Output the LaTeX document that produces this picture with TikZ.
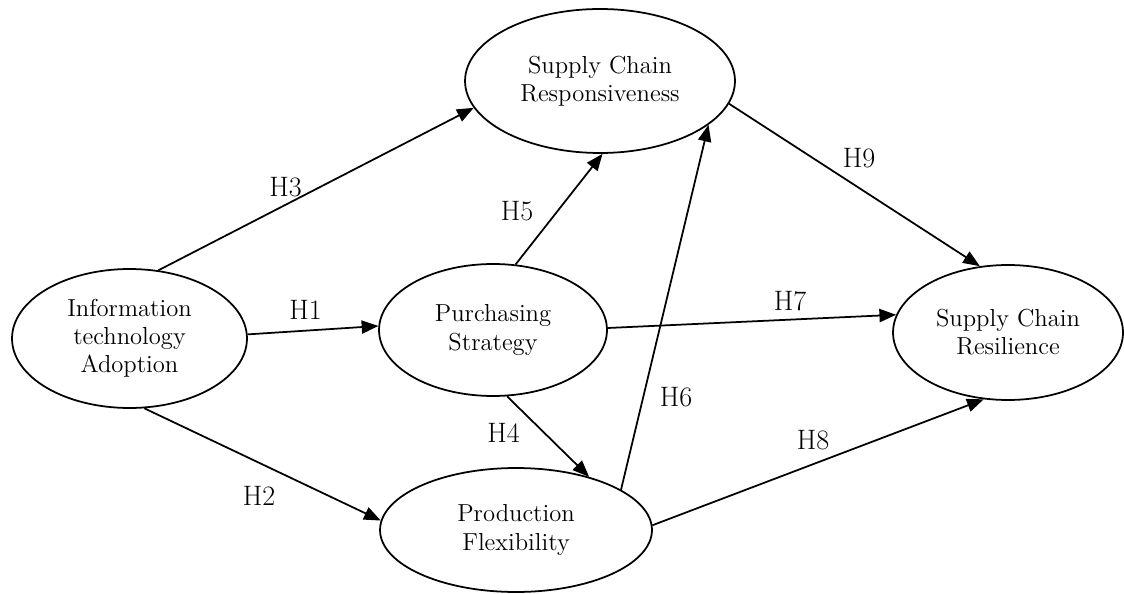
\documentclass[tikz,border=0pt]{standalone}
\usetikzlibrary{shapes.geometric,arrows.meta}

\begin{document}
\begin{tikzpicture}[x=0.02cm, y=-0.02cm,
        construct/.style={ellipse, draw, line width=1pt, inner sep=0pt, align=center,
            font=\fontsize{14}{16}\selectfont},
        hyparrow/.style={line width=1pt, -{Triangle[length=9.5pt, width=7.5pt]}},
        hyplabel/.style={inner sep=0pt, font=\fontsize{16}{18}\selectfont}]

        \useasboundingbox (0,0) rectangle (1124,594);

        % constructs
        \node[construct, minimum width=4.7cm, minimum height=2.78cm] (ita) at (129.5,338.5) {Information\\technology\\Adoption};
        \node[construct, minimum width=5.4cm, minimum height=2.88cm] (scr) at (600,81) {Supply Chain\\Responsiveness};
        \node[construct, minimum width=4.56cm, minimum height=2.64cm] (pst) at (493,330) {Purchasing\\Strategy};
        \node[construct, minimum width=5.44cm, minimum height=2.48cm] (pfl) at (516,530) {Production\\Flexibility};
        \node[construct, minimum width=4.6cm, minimum height=2.7cm] (scres) at (1008,332.5) {Supply Chain\\Resilience};

        % hypotheses
        \draw[hyparrow] (ita.2) -- (pst.178);
        \draw[hyparrow] (ita.-78) -- (pfl.176);
        \draw[hyparrow] (ita.67) -- (scr.192);
        \draw[hyparrow] (pst.-78) -- (pfl.36);
        \draw[hyparrow] (pst.71) -- (scr.-88);
        \draw[hyparrow] (pfl.21) -- (scr.-22);
        \draw[hyparrow] (pst.1) -- (scres.171);
        \draw[hyparrow] (pfl.2) -- (scres.250);
        \draw[hyparrow] (scr.-10) -- (scres.113);

        \node[hyplabel] (h1) at (305.5,310) {H1};
        \node[hyplabel] (h2) at (259,496) {H2};
        \node[hyplabel] (h3) at (285.5,187.5) {H3};
        \node[hyplabel] (h4) at (503.5,433) {H4};
        \node[hyplabel] (h5) at (517,211.5) {H5};
        \node[hyplabel] (h6) at (676,397) {H6};
        \node[hyplabel] (h7) at (790,301) {H7};
        \node[hyplabel] (h8) at (813,440) {H8};
        \node[hyplabel] (h9) at (859,158) {H9};
    \end{tikzpicture}
\end{document}
